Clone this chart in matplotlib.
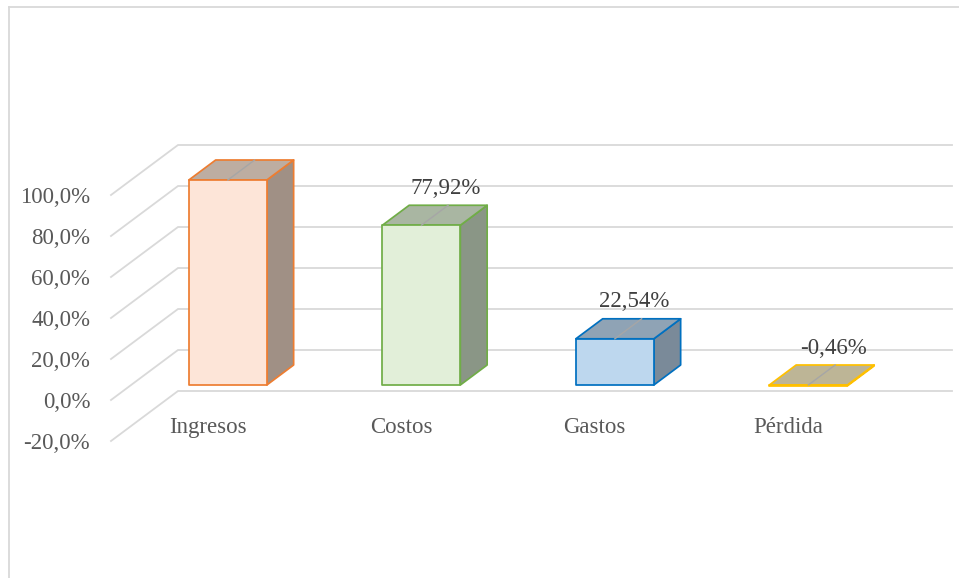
#!/usr/bin/env python3
"""Pseudo-3D column chart: Ingresos, Costos, Gastos, Pérdida."""

import matplotlib
matplotlib.use("Agg")
import matplotlib.pyplot as plt
from matplotlib.lines import Line2D
from matplotlib.patches import Polygon

plt.rcParams["font.family"] = ["Liberation Serif", "DejaVu Serif"]

categories = ["Ingresos", "Costos", "Gastos", "Pérdida"]
values = [100.0, 77.92, 22.54, -0.46]
value_labels = ["100%", "77,92%", "22,54%", "-0,46%"]
y_ticks = [-20, 0, 20, 40, 60, 80, 100]
y_tick_labels = ["-20,0%", "0,0%", "20,0%", "40,0%", "60,0%", "80,0%", "100,0%"]

front_colors = ["#fde5d8", "#e2efd9", "#bdd7ee", "#c4bc9c"]
top_colors = ["#bdada1", "#a9b6a2", "#8fa3b5", "#bdb596"]
side_colors = ["#a09085", "#8a9686", "#7a8a99", "#a39c80"]
edge_colors = ["#ed7d31", "#70ad47", "#0070c0", "#ffc000"]

GRID = "#d9d9d9"
W, H = 959, 578
# front plane of the floor/walls in pixels
LEFT, RIGHT, TOP, BOTTOM = 111, 885, 195, 441
# what one full unit of depth moves a point by, in data units
DEPTH_X = 67 / 193.5
DEPTH_Y = 50 / 2.05
BAR_WIDTH = 0.403
BAR_D0, BAR_D1 = 0.3, 0.7
LABEL_NUDGE = [-6, -2, -7, -2]


def project(x, y, d):
    return x + DEPTH_X * d, y + DEPTH_Y * d


def draw_bar(ax, i, value):
    lo, hi = min(value, 0), max(value, 0)
    x0, x1 = i - BAR_WIDTH / 2, i + BAR_WIDTH / 2
    style = dict(edgecolor=edge_colors[i], linewidth=1.25, joinstyle="round",
                 clip_on=False, zorder=3)
    side = [project(x1, lo, BAR_D0), project(x1, lo, BAR_D1),
            project(x1, hi, BAR_D1), project(x1, hi, BAR_D0)]
    top = [project(x0, hi, BAR_D0), project(x0, hi, BAR_D1),
           project(x1, hi, BAR_D1), project(x1, hi, BAR_D0)]
    front = [project(x0, lo, BAR_D0), project(x1, lo, BAR_D0),
             project(x1, hi, BAR_D0), project(x0, hi, BAR_D0)]
    ax.add_patch(Polygon(side, facecolor=side_colors[i], **style))
    ax.add_patch(Polygon(top, facecolor=top_colors[i], **style))
    ax.add_patch(Polygon(front, facecolor=front_colors[i], **style))

    # leader line across the top face
    a = project(i, hi, BAR_D0)
    b = project(i, hi, BAR_D1)
    ax.plot([a[0], b[0]], [a[1], b[1]], color="#a6a6a6", lw=1.0, zorder=4, clip_on=False)

    ax.annotate(value_labels[i], xy=b, xytext=(LABEL_NUDGE[i], 17),
                textcoords="offset pixels", ha="center", va="center",
                fontsize=16.5, color="#404040", zorder=5)


def main():
    fig = plt.figure(figsize=(W / 100, H / 100), dpi=100)
    ax = fig.add_axes([LEFT / W, (H - BOTTOM) / H, (RIGHT - LEFT) / W, (BOTTOM - TOP) / H])
    ax.set_xlim(-0.5, len(categories) - 0.5)
    ax.set_ylim(y_ticks[0], y_ticks[-1])
    ax.patch.set_visible(False)
    for spine in ax.spines.values():
        spine.set_visible(False)

    # side wall and back wall grid
    x_left, x_right = ax.get_xlim()
    for v in y_ticks:
        bx, by = project(x_left, v, 1)
        ex, ey = project(x_right, v, 1)
        ax.plot([x_left, bx, ex], [v, by, ey], color=GRID, lw=1.3, zorder=1,
                clip_on=False, solid_joinstyle="miter")

    for i, value in enumerate(values):
        draw_bar(ax, i, value)

    ax.set_yticks(y_ticks)
    ax.set_yticklabels(y_tick_labels)
    ax.set_xticks(range(len(categories)))
    ax.set_xticklabels(categories)
    ax.tick_params(axis="y", length=0, pad=15, labelsize=16.5, labelcolor="#595959")
    ax.tick_params(axis="x", length=0, pad=-17, labelsize=16.5, labelcolor="#595959")

    # chart border, only top and left fall inside the crop
    fig.add_artist(Line2D([9 / W, 9 / W], [0, 1 - 7 / H], color=GRID, lw=1.3))
    fig.add_artist(Line2D([9 / W, 1], [1 - 7 / H, 1 - 7 / H], color=GRID, lw=1.3))

    fig.savefig("out.png", dpi=100)
    plt.close(fig)


if __name__ == "__main__":
    main()
